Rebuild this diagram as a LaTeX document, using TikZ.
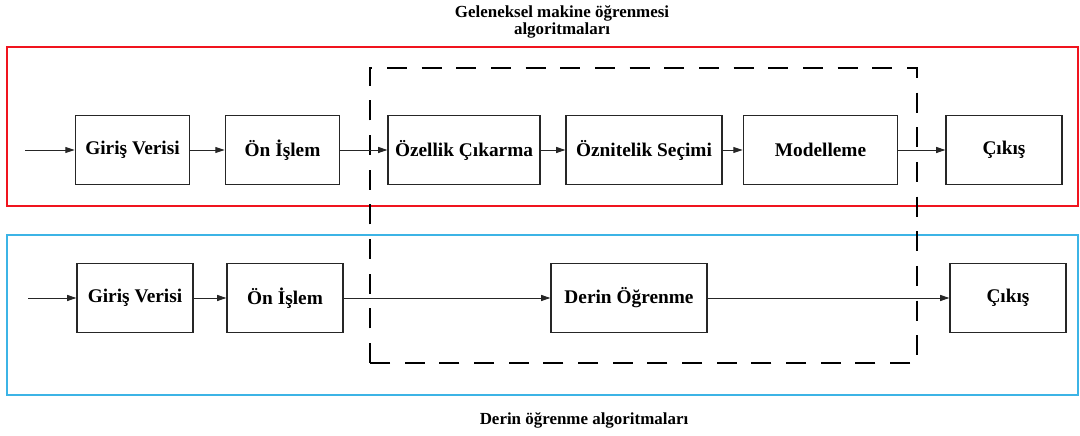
\documentclass[tikz,border=0pt]{standalone}
\usepackage{fontspec}
\setmainfont{Liberation Serif}
\usepackage{xcolor}
\usetikzlibrary{arrows.meta,positioning}
\definecolor{classicred}{HTML}{F0141E}
\definecolor{deepblue}{HTML}{3CB4E6}

\begin{document}
\begin{tikzpicture}[
    x=0.75pt, y=0.75pt,
    blk/.style={rectangle, draw=black!85, line width=0.8pt, minimum height=52pt, align=center, font=\bfseries\fontsize{14.5}{16}\selectfont, inner sep=2pt},
    flow/.style={-{Triangle[length=7pt,width=4.5pt]}, line width=0.7pt, color=black!85},
    groupbox/.style={line width=0.8pt},
    caption/.style={font=\bfseries\fontsize{12.7}{13.2}\selectfont, align=center}
]
    \useasboundingbox (0,0) rectangle (1080,435);

    % group frames
    \draw[groupbox, draw=classicred] (7,229) rectangle (1078,388);
    \draw[groupbox, draw=deepblue] (7,40) rectangle (1078,200);
    \draw[line width=1.2pt, dash pattern=on 15pt off 11pt] (370,72) rectangle (917,367);

    % captions
    \node[caption] (cap1) at (562,413) {Geleneksel makine öğrenmesi\\algoritmaları};
    \node[caption] (cap2) at (584,15) {Derin öğrenme algoritmaları};

    % classic pipeline
    \coordinate (in1) at (25,285);
    \node[blk, minimum width=86pt] (gv1) at (132.5,285) {Giriş Verisi};
    \node[blk, minimum width=86pt] (oi1) at (282.5,285) {Ön İşlem};
    \node[blk, minimum width=114pt] (oc) at (464,285) {Özellik Çıkarma};
    \node[blk, minimum width=117pt] (os) at (644,285) {Öznitelik Seçimi};
    \node[blk, minimum width=116pt] (md) at (820.5,285) {Modelleme};
    \node[blk, minimum width=87pt] (ck1) at (1004,285) {Çıkış};

    \draw[flow] (in1) -- (gv1);
    \draw[flow] (gv1) -- (oi1);
    \draw[flow] (oi1) -- (oc);
    \draw[flow] (oc) -- (os);
    \draw[flow] (os) -- (md);
    \draw[flow] (md) -- (ck1);

    % deep learning pipeline
    \coordinate (in2) at (28,137);
    \node[blk, minimum width=87pt] (gv2) at (135,137) {Giriş Verisi};
    \node[blk, minimum width=87pt] (oi2) at (285,137) {Ön İşlem};
    \node[blk, minimum width=117pt] (dl) at (629,137) {Derin Öğrenme};
    \node[blk, minimum width=87pt] (ck2) at (1008,137) {Çıkış};

    \draw[flow] (in2) -- (gv2);
    \draw[flow] (gv2) -- (oi2);
    \draw[flow] (oi2) -- (dl);
    \draw[flow] (dl) -- (ck2);
\end{tikzpicture}
\end{document}
